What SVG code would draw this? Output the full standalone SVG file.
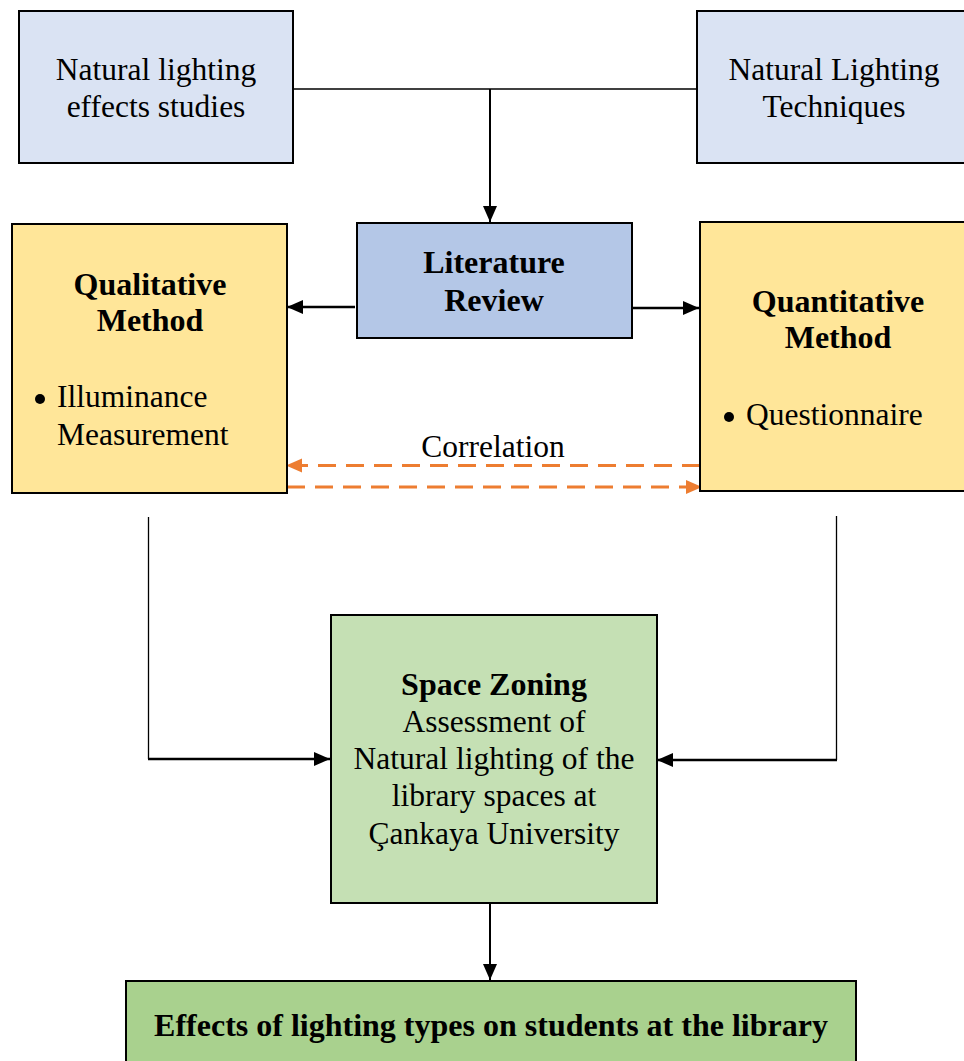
<svg xmlns="http://www.w3.org/2000/svg" width="964" height="1061" viewBox="0 0 964 1061">
<style>
  .box { stroke: #000; stroke-width: 2; }
  .t { font-family: "Liberation Serif", "Times New Roman", serif; font-size: 31.5px; fill: #000; }
  .b { font-weight: bold; font-size: 32px; }
  .c { text-anchor: middle; }
  .ln { stroke: #000; fill: none; }
  .dash { stroke: #ed7d31; stroke-width: 3; stroke-dasharray: 18 10; fill: none; }
</style>
<defs>
  <marker id="ah" markerUnits="userSpaceOnUse" markerWidth="18" markerHeight="16" refX="16" refY="8" orient="auto">
    <path d="M0,1 L16,8 L0,15 Z" fill="#000"/>
  </marker>
  <marker id="ao" markerUnits="userSpaceOnUse" markerWidth="18" markerHeight="16" refX="16" refY="8" orient="auto">
    <path d="M0,1 L16,8 L0,15 Z" fill="#ed7d31"/>
  </marker>
</defs>
<rect width="964" height="1061" fill="#fff"/>

<g id="connectors">
  <line class="ln" x1="293" y1="89" x2="697" y2="89" stroke-width="1.3"/>
  <line class="ln" x1="490" y1="89" x2="490" y2="222" stroke-width="2" marker-end="url(#ah)"/>
  <line class="ln" x1="355" y1="307" x2="287" y2="307" stroke-width="2.5" marker-end="url(#ah)"/>
  <line class="ln" x1="632" y1="308" x2="699" y2="308" stroke-width="2.5" marker-end="url(#ah)"/>
  <line class="dash" x1="700" y1="465.5" x2="286" y2="465.5" marker-end="url(#ao)"/>
  <line class="dash" x1="287" y1="487" x2="702" y2="487" marker-end="url(#ao)"/>
  <polyline class="ln" points="148.5,517 148.5,759" stroke-width="1.3"/>
  <line class="ln" x1="148" y1="759" x2="330" y2="759" stroke-width="2.5" marker-end="url(#ah)"/>
  <polyline class="ln" points="836.5,516 836.5,760" stroke-width="1.3"/>
  <line class="ln" x1="837" y1="760" x2="657" y2="760" stroke-width="2.5" marker-end="url(#ah)"/>
  <line class="ln" x1="490" y1="903" x2="490" y2="980" stroke-width="2" marker-end="url(#ah)"/>
</g>

<g id="node-effects-studies">
  <rect class="box" x="19" y="11" width="274" height="152" fill="#dae3f3"/>
  <text class="t c" x="156" y="80">Natural lighting</text>
  <text class="t c" x="156" y="117">effects studies</text>
</g>

<g id="node-techniques">
  <rect class="box" x="697" y="11" width="280" height="152" fill="#dae3f3"/>
  <text class="t c" x="834" y="80">Natural Lighting</text>
  <text class="t c" x="834" y="117">Techniques</text>
</g>

<g id="node-literature">
  <rect class="box" x="357" y="223" width="275" height="115" fill="#b4c7e7"/>
  <text class="t b c" x="494" y="273">Literature</text>
  <text class="t b c" x="494" y="311">Review</text>
</g>

<g id="node-qualitative">
  <rect class="box" x="12" y="224" width="275" height="269" fill="#ffe699"/>
  <text class="t b c" x="150" y="295">Qualitative</text>
  <text class="t b c" x="150" y="331">Method</text>
  <circle cx="40" cy="399" r="5" fill="#000"/>
  <text class="t" x="57" y="407">Illuminance</text>
  <text class="t" x="57" y="445">Measurement</text>
</g>

<g id="node-quantitative">
  <rect class="box" x="700" y="222" width="280" height="269" fill="#ffe699"/>
  <text class="t b c" x="838" y="312">Quantitative</text>
  <text class="t b c" x="838" y="348">Method</text>
  <circle cx="729" cy="417" r="5" fill="#000"/>
  <text class="t" x="746" y="425">Questionnaire</text>
</g>

<g id="label-correlation">
  <text class="t c" x="493" y="457">Correlation</text>
</g>

<g id="node-space-zoning">
  <rect class="box" x="331" y="615" width="326" height="288" fill="#c5e0b4"/>
  <text class="t b c" x="494" y="695">Space Zoning</text>
  <text class="t c" x="494" y="732">Assessment of</text>
  <text class="t c" x="494" y="769">Natural lighting of the</text>
  <text class="t c" x="494" y="806">library spaces at</text>
  <text class="t c" x="494" y="844">Çankaya University</text>
</g>

<g id="node-effects">
  <rect class="box" x="126" y="981" width="730" height="100" fill="#a9d18e"/>
  <text class="t b c" x="491" y="1036">Effects of lighting types on students at the library</text>
</g>
</svg>
